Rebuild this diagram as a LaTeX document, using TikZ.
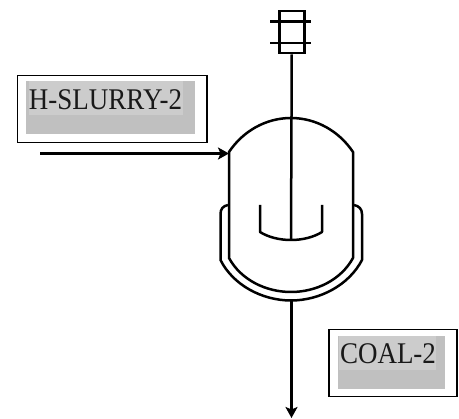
\documentclass[tikz,border=0pt]{standalone}
\usepackage{fontspec}
\setmainfont[FakeStretch=0.9]{Liberation Serif}
\usetikzlibrary{arrows.meta}
\definecolor{greyA}{RGB}{192,192,192}
\definecolor{greyB}{RGB}{204,204,204}
\definecolor{inkT}{RGB}{25,25,25}
\tikzset{
  x=1pt,y=-1pt,
  vessel/.style={line width=2.5pt,line join=round,black},
  frameBox/.style={draw=black,line width=1.5pt,fill=white,inner sep=0pt,anchor=north west},
  backBox/.style={fill=greyA,inner sep=0pt,anchor=north west},
  tagBox/.style={fill=greyB,inner sep=0pt,anchor=north west,minimum height=34pt},
  tagText/.style={inner sep=0pt,text=inkT,font=\fontsize{30}{32}\selectfont},
  flow/.style={line width=3pt,-{Stealth[length=11pt,width=12pt,inset=2.5pt]}},
}
\begin{document}
\begin{tikzpicture}
\useasboundingbox (0,0) rectangle (459,419);
% label 1
\node[frameBox,minimum width=189.5pt,minimum height=67pt] (frameA) at (16.5,75) {};
\node[backBox,minimum width=169pt,minimum height=53pt] (backA) at (26,81) {};
\node[tagBox,minimum width=154pt] (tagA) at (29,81) {};
\node[tagText,anchor=base] (textA) at (105.5,110) {H-SLURRY-2};
% label 2
\node[frameBox,minimum width=128pt,minimum height=67pt] (frameB) at (328,329) {};
\node[backBox,minimum width=107pt,minimum height=53pt] (backB) at (337.5,336) {};
\node[tagBox,minimum width=97pt] (tagB) at (339,336) {};
\node[tagText,anchor=base] (textB) at (388,364) {COAL-2};
% motor
\node[draw,line width=2.5pt,minimum width=25pt,minimum height=42pt,inner sep=0pt,anchor=north west] (motor) at (278,10) {};
\coordinate (barAl) at (270,21.5); \coordinate (barAr) at (311,21.5);
\coordinate (barBl) at (270,43); \coordinate (barBr) at (311,43);
\draw[vessel] (barAl) -- (barAr);
\draw[vessel] (barBl) -- (barBr);
% shaft
\coordinate (shaftEnd) at (291,240);
\draw[vessel] (motor.south) -- (shaftEnd);
% vessel
\coordinate (vesselL) at (229,152);
\coordinate (vesselR) at (353,152);
\draw[vessel] (vesselL) .. controls (243,131) and (266,118) .. (291,118)
  .. controls (316,118) and (339,131) .. (vesselR)
  -- (353,258) .. controls (341,280) and (316,292) .. (291,292)
  .. controls (266,292) and (241,280) .. (229,258) -- cycle;
% jacket
\draw[vessel] (228,205) .. controls (223,206) and (220.5,209) .. (220.5,214) -- (220.5,260)
  .. controls (233,285) and (262,300.5) .. (291,300.5)
  .. controls (320,300.5) and (349,285) .. (362,260) -- (362,214)
  .. controls (362,209) and (359,206) .. (354,205);
% impeller
\draw[vessel] (260,205) -- (260,232) .. controls (268,237) and (279,240) .. (shaftEnd)
  .. controls (303,240) and (314,237) .. (322,232) -- (322,205);
% streams
\coordinate (feedStart) at (40,153.5);
\coordinate (feedEnd) at (229,153.5);
\coordinate (outStart) at (291.5,301);
\coordinate (outEnd) at (291.5,418);
\draw[flow] (feedStart) -- (feedEnd);
\draw[flow] (outStart) -- (outEnd);
\end{tikzpicture}
\end{document}
